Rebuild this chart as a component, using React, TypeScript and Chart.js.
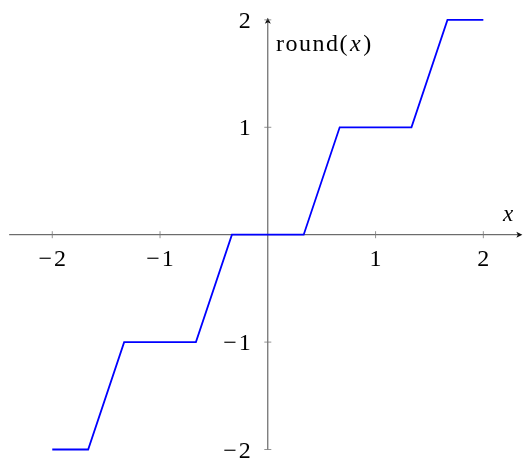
import React, { useEffect, useRef } from "react";
import { Chart, registerables } from "chart.js";

Chart.register(...registerables);

// data
const xValues = [-2, -1.667, -1.333, -0.667, -0.333, 0.333, 0.667, 1.333, 1.667, 2];
const yValues = [-2, -2, -1, -1, 0, 0, 1, 1, 2, 2];
const xTicks = [-2, -1, 1, 2];
const yTicks = [-2, -1, 1, 2];
const xTickLabels = ["\u22122", "\u22121", "1", "2"];
const yTickLabels = ["\u22122", "\u22121", "1", "2"];

const FONT = "'Liberation Serif', 'DejaVu Serif', serif";

const axesPlugin = {
  id: "middleAxes",
  beforeDatasetsDraw(chart: any) {
    const { ctx, scales } = chart;
    const xs = scales.x;
    const ys = scales.y;
    const x0 = xs.getPixelForValue(0);
    const y0 = ys.getPixelForValue(0);
    const xl = xs.getPixelForValue(-2.4);
    const xr = xs.getPixelForValue(2.362);
    const yb = ys.getPixelForValue(-2);
    const yt = ys.getPixelForValue(2.02);
    ctx.save();
    ctx.strokeStyle = "#4a4a4a";
    ctx.lineWidth = 1;
    // x axis
    ctx.beginPath();
    ctx.moveTo(xl, y0);
    ctx.lineTo(xr - 2, y0);
    ctx.stroke();
    // y axis
    ctx.beginPath();
    ctx.moveTo(x0, yb);
    ctx.lineTo(x0, yt + 2);
    ctx.stroke();
    // arrow heads
    ctx.fillStyle = "#111";
    ctx.beginPath();
    ctx.moveTo(xr, y0);
    ctx.lineTo(xr - 6, y0 - 3);
    ctx.lineTo(xr - 4.5, y0);
    ctx.lineTo(xr - 6, y0 + 3);
    ctx.closePath();
    ctx.fill();
    ctx.beginPath();
    ctx.moveTo(x0, yt);
    ctx.lineTo(x0 - 3, yt + 6);
    ctx.lineTo(x0, yt + 4.5);
    ctx.lineTo(x0 + 3, yt + 6);
    ctx.closePath();
    ctx.fill();
    // ticks
    ctx.strokeStyle = "#777";
    ctx.lineWidth = 0.8;
    xTicks.forEach((v) => {
      const px = xs.getPixelForValue(v);
      ctx.beginPath();
      ctx.moveTo(px, y0 - 3.5);
      ctx.lineTo(px, y0 + 3.5);
      ctx.stroke();
    });
    yTicks.forEach((v) => {
      const py = ys.getPixelForValue(v);
      ctx.beginPath();
      ctx.moveTo(x0 - 3.5, py);
      ctx.lineTo(x0 + 3.5, py);
      ctx.stroke();
    });
    // tick labels
    ctx.fillStyle = "#000";
    ctx.font = `24px ${FONT}`;
    (ctx as any).letterSpacing = "2px";
    ctx.textBaseline = "alphabetic";
    ctx.textAlign = "left";
    xTicks.forEach((v, i) => {
      const px = xs.getPixelForValue(v);
      const w = ctx.measureText(xTickLabels[i]).width - 2;
      ctx.fillText(xTickLabels[i], px - w / 2, y0 + 31);
    });
    yTicks.forEach((v, i) => {
      const py = ys.getPixelForValue(v);
      const w = ctx.measureText(yTickLabels[i]).width - 2;
      ctx.fillText(yTickLabels[i], x0 - 17 - w, py + 8);
    });
    // axis labels
    (ctx as any).letterSpacing = "0px";
    ctx.font = `italic 23px ${FONT}`;
    ctx.fillText("x", 503, 221);
    (ctx as any).letterSpacing = "1.5px";
    ctx.font = `24px ${FONT}`;
    const base = "round(";
    ctx.fillText(base, 276, 51);
    const w = ctx.measureText(base).width;
    ctx.font = `italic 24px ${FONT}`;
    ctx.fillText("x", 276 + w + 1, 51);
    const wx = ctx.measureText("x").width;
    ctx.font = `24px ${FONT}`;
    ctx.fillText(")", 276 + w + wx + 2, 51);
    ctx.restore();
  },
};

export default function App() {
  const ref = useRef<HTMLCanvasElement | null>(null);
  useEffect(() => {
    if (!ref.current) return;
    const chart = new Chart(ref.current, {
      type: "scatter",
      data: {
        datasets: [
          {
            data: xValues.map((x, i) => ({ x, y: yValues[i] })),
            showLine: true,
            borderColor: "#0000ff",
            borderWidth: 1.8,
            pointRadius: 0,
            fill: false,
            tension: 0,
          },
        ],
      },
      options: {
        animation: false,
        responsive: true,
        maintainAspectRatio: false,
        layout: { padding: 0 },
        plugins: { legend: { display: false }, tooltip: { enabled: false } },
        scales: {
          x: { type: "linear", display: false, min: -2.485, max: 2.368 },
          y: { type: "linear", display: false, min: -2.079, max: 2.185 },
        },
      },
      plugins: [axesPlugin],
    });
    return () => chart.destroy();
  }, []);
  return (
    <div style={{ position: "fixed", left: 0, top: 0, width: 523, height: 458, background: "#fff" }}>
      <canvas ref={ref} />
    </div>
  );
}
